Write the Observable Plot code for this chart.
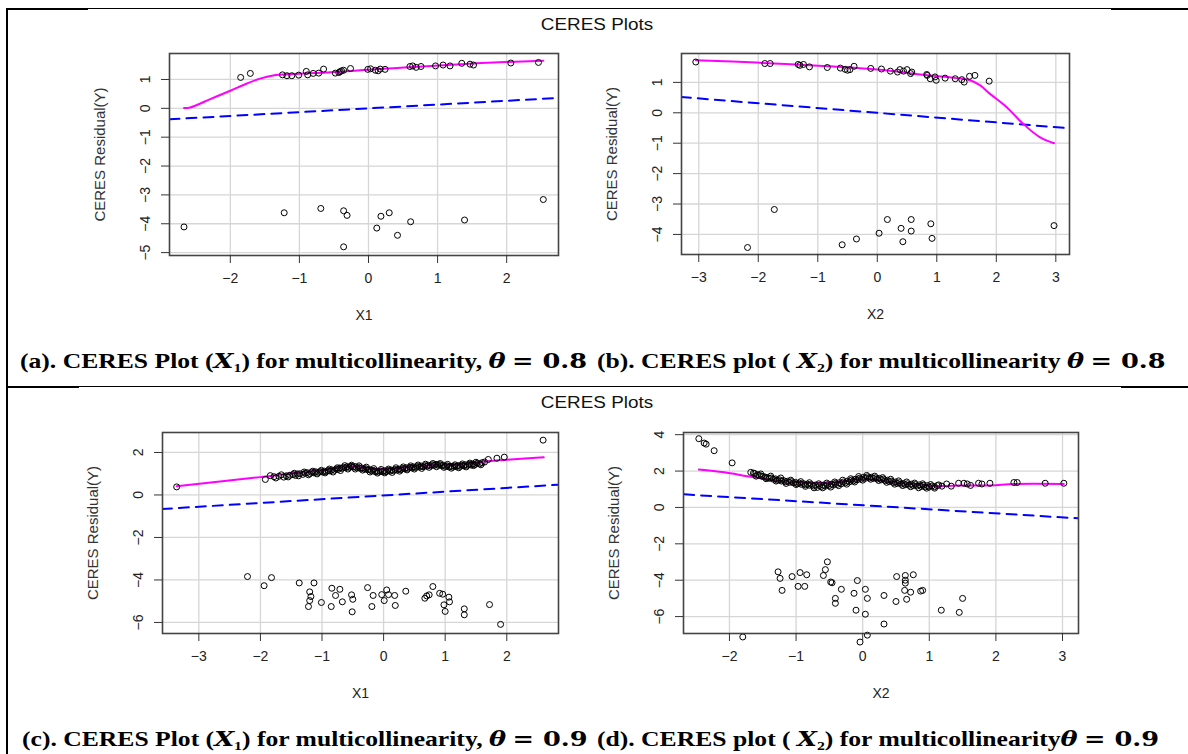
<!DOCTYPE html>
<html>
<head>
<meta charset="utf-8">
<script src="https://cdn.jsdelivr.net/npm/d3@7"></script>
<script src="https://cdn.jsdelivr.net/npm/@observablehq/plot@0.6"></script>
<style>
  html, body { margin: 0; padding: 0; background: #fff; }
  #page { position: relative; width: 1188px; height: 754px; overflow: hidden; background: #fff; }
  .abs { position: absolute; }
  .line { position: absolute; background: #000; }
  .title { position: absolute; width: 300px; text-align: center; font-family: "Liberation Sans", Arial, sans-serif; font-size: 16px; color: #111; transform: scaleX(1.18); }
  .cap { position: absolute; white-space: nowrap; font-family: "Liberation Serif", "Times New Roman", serif; font-weight: bold; font-size: 21px; color: #000; transform-origin: 0 50%; transform: scaleX(1.22); }
  .cap .m { font-family: "DejaVu Serif", "Liberation Serif", serif; font-weight: bold; }
  .cap i { font-family: "DejaVu Serif", "Liberation Serif", serif; }
  .cap sub { font-size: 13px; vertical-align: -4px; }
</style>
</head>
<body>
<div id="page"></div>
<script>
// ---------- Data ----------
const panelTitles = ["CERES Plots", "CERES Plots"];
const yAxisLabel = "CERES Residual(Y)";

// Panel (a): X1, theta = 0.8
const aTicksX = [-2, -1, 0, 1, 2];
const aTicksY = [1, 0, -1, -2, -3, -4, -5];
const aPoints = [
  [-1.85,1.07],[-1.71,1.21],[-1.245,1.16],[-1.18,1.13],[-1.11,1.13],[-1.01,1.15],[-0.90,1.28],[-0.88,1.16],
  [-0.80,1.21],[-0.72,1.22],[-0.65,1.36],[-0.48,1.22],[-0.43,1.24],[-0.41,1.27],[-0.39,1.30],[-0.36,1.32],
  [-0.26,1.38],[-0.01,1.35],[0.03,1.37],[0.10,1.32],[0.14,1.30],[0.17,1.36],[0.24,1.35],[0.60,1.45],
  [0.64,1.47],[0.69,1.42],[0.76,1.45],[0.97,1.47],[1.08,1.50],[1.18,1.47],[1.35,1.56],[1.47,1.53],
  [1.52,1.50],[2.06,1.57],[2.46,1.59],
  [-2.67,-4.11],[-1.22,-3.62],[-0.69,-3.47],[-0.36,-3.55],[-0.31,-3.71],[-0.36,-4.80],[0.12,-4.15],
  [0.18,-3.74],[0.30,-3.62],[0.42,-4.40],[0.61,-3.93],[1.39,-3.87],[2.53,-3.16]
];
const aSmooth = [
  [-2.67,0.01],[-2.58,0.03],[-2.29,0.32],[-2.0,0.61],[-1.76,0.86],[-1.57,1.03],[-1.38,1.14],[-1.09,1.19],
  [-0.60,1.24],[-0.12,1.32],[0.36,1.39],[0.84,1.46],[1.33,1.53],[1.81,1.59],[2.53,1.65]
];
const aFit = [[-2.88,-0.38],[2.75,0.36]];

// Panel (b): X2, theta = 0.8
const bTicksX = [-3, -2, -1, 0, 1, 2, 3];
const bTicksY = [1, 0, -1, -2, -3, -4];
const bPoints = [
  [-3.05,1.67],[-1.89,1.62],[-1.80,1.62],[-1.33,1.59],[-1.30,1.56],[-1.24,1.59],[-1.14,1.51],[-0.84,1.49],
  [-0.62,1.47],[-0.54,1.43],[-0.50,1.40],[-0.46,1.42],[-0.39,1.53],[-0.11,1.46],[0.07,1.44],[0.22,1.37],
  [0.34,1.34],[0.38,1.42],[0.44,1.37],[0.50,1.42],[0.56,1.29],[0.58,1.34],[0.83,1.26],[0.84,1.23],
  [0.89,1.12],[0.97,1.18],[0.99,1.07],[1.14,1.14],[1.31,1.12],[1.42,1.09],[1.46,1.01],[1.55,1.20],
  [1.64,1.23],[1.88,1.04],
  [-2.18,-4.43],[-1.73,-3.18],[-0.59,-4.34],[-0.35,-4.15],[0.03,-3.96],[0.17,-3.51],[0.40,-3.80],
  [0.43,-4.24],[0.57,-3.51],[0.57,-3.89],[0.90,-3.65],[0.92,-4.13],[2.97,-3.71]
];
const bSmooth = [
  [-3.05,1.73],[-2.03,1.65],[-0.91,1.54],[0,1.42],[0.77,1.25],[1.33,1.14],[1.56,1.07],[1.73,0.90],
  [1.89,0.63],[2.17,0.19],[2.45,-0.36],[2.73,-0.80],[2.97,-1.00]
];
const bFit = [[-3.30,0.52],[3.23,-0.51]];

// Panel (c): X1, theta = 0.9
const cTicksX = [-3, -2, -1, 0, 1, 2];
const cTicksY = [2, 0, -2, -4, -6];
const cPoints = [
  [-3.36,0.38],[-1.92,0.73],[-1.84,0.91],[-1.78,0.86],[-1.70,0.88],[-1.62,0.84],[-1.58,0.90],[-1.52,0.93],
  [-1.47,0.96],[-1.43,0.92],[-1.40,0.99],[-1.36,1.00],[-1.31,0.97],[-1.27,1.03],[-1.24,1.05],[-1.20,1.00],
  [-1.17,1.07],[-1.13,1.04],[-1.10,1.09],[-1.06,1.06],[-1.03,1.10],[-0.99,1.08],[-0.96,1.12],[-0.93,1.10],
  [-0.90,1.15],[-0.87,1.13],[-0.84,1.18],[-0.80,1.16],[-0.77,1.22],[-0.74,1.20],[-0.71,1.27],[-0.68,1.25],
  [-0.65,1.30],[-0.62,1.28],[-0.59,1.33],[-0.56,1.30],[-0.53,1.35],[-0.50,1.31],[-0.47,1.34],[-0.44,1.28],
  [-0.41,1.30],[-0.38,1.25],[-0.35,1.27],[-0.32,1.22],[-0.29,1.24],[-0.26,1.18],[-0.23,1.20],[-0.20,1.14],
  [-0.17,1.16],[-0.14,1.10],[-0.11,1.12],[-0.08,1.08],[-0.05,1.13],[-0.02,1.09],[0.01,1.14],[0.04,1.10],
  [0.07,1.15],[0.10,1.12],[0.13,1.17],[0.16,1.14],[0.19,1.20],[0.22,1.17],[0.25,1.22],[0.28,1.19],
  [0.31,1.25],[0.34,1.23],[0.37,1.28],[0.40,1.25],[0.43,1.30],[0.46,1.27],[0.49,1.32],[0.52,1.29],
  [0.55,1.34],[0.58,1.31],[0.61,1.36],[0.64,1.33],[0.67,1.38],[0.70,1.35],[0.73,1.40],[0.76,1.37],
  [0.79,1.42],[0.82,1.39],[0.85,1.44],[0.88,1.40],[0.91,1.43],[0.94,1.38],[0.97,1.40],[1.00,1.35],
  [1.03,1.37],[1.06,1.32],[1.09,1.35],[1.12,1.31],[1.15,1.36],[1.18,1.33],[1.21,1.38],[1.24,1.35],
  [1.27,1.40],[1.30,1.37],[1.33,1.42],[1.36,1.39],[1.39,1.44],[1.42,1.41],[1.45,1.46],[1.48,1.43],
  [1.52,1.49],[1.56,1.47],[1.60,1.52],[1.64,1.55],[1.70,1.67],[1.84,1.73],[1.96,1.78],[2.59,2.58],
  [-1.75,0.80],[-1.66,0.95],[-1.55,0.85],[-1.45,1.02],[-1.38,0.90],[-1.29,1.08],[-1.22,0.95],[-1.15,1.12],
  [-1.08,0.99],[-1.01,1.16],[-0.95,1.04],[-0.88,1.22],[-0.82,1.08],[-0.75,1.28],[-0.70,1.15],[-0.63,1.38],
  [-0.58,1.22],[-0.52,1.40],[-0.46,1.22],[-0.40,1.37],[-0.34,1.17],[-0.28,1.31],[-0.22,1.08],[-0.16,1.24],
  [-0.10,1.03],[-0.04,1.20],[0.02,1.04],[0.08,1.22],[0.14,1.06],[0.20,1.28],[0.26,1.12],[0.32,1.32],
  [0.38,1.18],[0.44,1.37],[0.50,1.22],[0.56,1.41],[0.62,1.25],[0.68,1.45],[0.74,1.30],[0.80,1.48],
  [0.86,1.33],[0.92,1.48],[0.98,1.30],[1.04,1.44],[1.10,1.26],[1.16,1.42],[1.22,1.28],[1.28,1.46],
  [1.34,1.32],[1.40,1.50],[1.46,1.38],[1.50,1.54],[1.58,1.42],
  [-2.21,-3.84],[-1.94,-4.27],[-1.82,-3.89],[-1.37,-4.14],[-1.13,-4.14],[-1.20,-4.56],[-1.18,-4.78],
  [-1.20,-4.97],[-1.22,-5.25],[-1.01,-5.06],[-0.85,-5.25],[-0.84,-4.39],[-0.78,-4.73],[-0.71,-4.44],
  [-0.67,-5.03],[-0.52,-4.70],[-0.50,-4.91],[-0.51,-5.50],[-0.26,-4.36],[-0.17,-4.73],[-0.19,-5.25],
  [-0.03,-4.69],[0.05,-4.47],[0.08,-4.69],[0.01,-4.97],[0.18,-4.73],[0.19,-5.20],[0.36,-4.53],
  [0.67,-4.86],[0.70,-4.75],[0.74,-4.70],[0.80,-4.31],[0.91,-4.63],[0.96,-4.67],[1.06,-4.81],
  [1.07,-5.03],[0.98,-5.17],[1.00,-5.48],[1.31,-5.36],[1.31,-5.64],[1.72,-5.16],[1.90,-6.09]
];
const cSmooth = [
  [-3.36,0.41],[-2.0,0.84],[-1.46,1.03],[-0.92,1.19],[-0.60,1.34],[-0.38,1.31],[-0.11,1.23],[0.16,1.25],
  [0.70,1.39],[1.24,1.44],[1.68,1.59],[2.06,1.67],[2.60,1.77]
];
const cFit = [[-3.60,-0.66],[2.83,0.48]];

// Panel (d): X2, theta = 0.9
const dTicksX = [-2, -1, 0, 1, 2, 3];
const dTicksY = [4, 2, 0, -2, -4, -6];
const dPoints = [
  [-2.46,3.78],[-2.38,3.54],[-2.35,3.48],[-2.23,3.12],[-1.96,2.45],[-1.68,1.93],[-1.64,1.89],
  [-1.62,1.86],[-1.58,1.80],[-1.55,1.76],[-1.52,1.72],[-1.49,1.70],[-1.46,1.66],[-1.43,1.64],[-1.40,1.60],
  [-1.37,1.62],[-1.34,1.55],[-1.31,1.57],[-1.28,1.50],[-1.25,1.52],[-1.22,1.45],[-1.19,1.48],[-1.16,1.41],
  [-1.13,1.44],[-1.10,1.38],[-1.07,1.42],[-1.04,1.35],[-1.01,1.38],[-0.98,1.30],[-0.95,1.34],[-0.92,1.27],
  [-0.89,1.31],[-0.86,1.24],[-0.83,1.28],[-0.80,1.22],[-0.77,1.26],[-0.74,1.18],[-0.71,1.23],[-0.68,1.10],
  [-0.65,1.20],[-0.62,1.15],[-0.59,1.22],[-0.56,1.17],[-0.53,1.25],[-0.50,1.20],[-0.47,1.28],[-0.44,1.23],
  [-0.41,1.32],[-0.38,1.27],[-0.35,1.36],[-0.32,1.30],[-0.29,1.40],[-0.26,1.35],[-0.23,1.45],[-0.20,1.40],
  [-0.17,1.50],[-0.14,1.46],[-0.11,1.55],[-0.08,1.52],[-0.05,1.60],[-0.02,1.56],[0.01,1.65],[0.04,1.60],
  [0.07,1.68],[0.10,1.62],[0.13,1.66],[0.16,1.60],[0.19,1.63],[0.22,1.56],[0.25,1.60],[0.28,1.52],
  [0.31,1.56],[0.34,1.47],[0.37,1.50],[0.40,1.42],[0.43,1.45],[0.46,1.37],[0.49,1.40],[0.52,1.32],
  [0.55,1.36],[0.58,1.28],[0.61,1.32],[0.64,1.25],[0.67,1.30],[0.70,1.22],[0.73,1.28],[0.76,1.20],
  [0.79,1.26],[0.82,1.18],[0.85,1.24],[0.88,1.15],[0.91,1.22],[0.94,1.13],[0.97,1.20],[1.00,1.12],
  [1.04,1.18],[1.08,1.14],[1.12,1.20],
  [-1.60,1.72],[-1.53,1.84],[-1.45,1.58],[-1.38,1.72],[-1.30,1.45],[-1.23,1.62],[-1.15,1.32],[-1.08,1.50],
  [-1.00,1.26],[-0.93,1.42],[-0.86,1.16],[-0.80,1.36],[-0.73,1.08],[-0.66,1.30],[-0.60,1.08],[-0.54,1.34],
  [-0.48,1.12],[-0.42,1.40],[-0.36,1.20],[-0.30,1.50],[-0.24,1.28],[-0.18,1.58],[-0.12,1.40],[-0.06,1.70],
  [0.00,1.50],[0.06,1.76],[0.12,1.55],[0.18,1.72],[0.24,1.48],[0.30,1.64],[0.36,1.38],[0.42,1.55],
  [0.48,1.28],[0.54,1.46],[0.60,1.20],[0.66,1.40],[0.72,1.14],[0.78,1.34],[0.84,1.08],[0.90,1.30],
  [0.96,1.06],[1.02,1.26],[1.08,1.06],[1.14,1.24],
  [1.19,1.17],[1.26,1.29],[1.33,1.17],[1.44,1.33],[1.52,1.33],[1.57,1.29],[1.62,1.21],[1.74,1.33],
  [1.79,1.29],[1.91,1.33],[2.27,1.37],[2.32,1.37],[2.74,1.33],[3.02,1.33],
  [-1.80,-7.12],[-1.27,-3.54],[-1.24,-3.90],[-1.21,-4.56],[-1.06,-3.80],[-0.97,-4.34],[-0.94,-3.58],
  [-0.87,-4.34],[-0.84,-3.70],[-0.59,-3.74],[-0.56,-3.42],[-0.53,-2.99],[-0.48,-4.10],[-0.46,-4.14],
  [-0.41,-5.00],[-0.41,-5.27],[-0.32,-4.50],[-0.13,-4.72],[-0.08,-4.02],[-0.10,-5.65],[-0.04,-7.40],
  [0.04,-4.50],[0.04,-5.87],[0.07,-5.00],[0.07,-7.02],[0.32,-4.84],[0.32,-6.41],[0.50,-5.17],
  [0.51,-3.80],[0.64,-3.74],[0.64,-4.00],[0.64,-4.16],[0.63,-4.56],[0.66,-5.05],[0.72,-4.66],
  [0.76,-3.70],[0.87,-4.60],[0.90,-4.56],[1.18,-5.65],[1.45,-5.77],[1.50,-5.00]
];
const dSmooth = [
  [-2.46,2.09],[-2.08,1.93],[-1.68,1.69],[-1.28,1.49],[-0.98,1.37],[-0.48,1.37],[-0.18,1.49],[0.02,1.57],
  [0.27,1.49],[0.57,1.33],[0.92,1.25],[1.02,1.17],[1.42,1.21],[1.92,1.21],[2.27,1.29],[3.02,1.29]
];
const dFit = [[-2.68,0.72],[3.24,-0.60]];

// ---------- Layout ----------
const page = document.getElementById("page");
function addLine(l, t, w, h) {
  const d = document.createElement("div");
  d.className = "line";
  Object.assign(d.style, {left: l + "px", top: t + "px", width: w + "px", height: h + "px"});
  page.appendChild(d);
}
// table borders
addLine(7, 8, 1181, 1); addLine(7, 8, 81, 2); addLine(1111, 8, 77, 2);
addLine(6, 8, 2, 746);
addLine(7, 386, 1181, 1); addLine(7, 386, 72, 2); addLine(1121, 386, 67, 2);

function addCaption(html, left, top) {
  const d = document.createElement("div");
  d.className = "cap";
  d.innerHTML = html;
  d.style.left = left + "px";
  d.style.top = top + "px";
  page.appendChild(d);
}
addCaption('(a). CERES Plot (<i>X</i><sub>1</sub>) for multicollinearity, <i>θ</i> <span class="m">= 0.8</span>', 20, 348);
addCaption('(b). CERES plot ( <i>X</i><sub>2</sub>) for multicollinearity <i>θ</i> <span class="m">= 0.8</span>', 597, 348);
addCaption('(c). CERES Plot (<i>X</i><sub>1</sub>) for multicollinearity, <i>θ</i> <span class="m">= 0.9</span>', 22, 726);
addCaption('(d). CERES plot ( <i>X</i><sub>2</sub>) for multicollinearity<i>θ</i> <span class="m">= 0.9</span>', 597, 726);

const toXY = arr => arr.map(([x, y]) => ({x, y}));

function panel({points, smooth, fit, ticksX, ticksY, xDomain, yDomain, xLabel, left, top, width, height, mL, mR, mT, mB}) {
  const chart = Plot.plot({
    width, height,
    marginLeft: mL, marginRight: mR, marginTop: mT, marginBottom: mB,
    x: {domain: xDomain},
    y: {domain: yDomain},
    style: {fontFamily: '"Liberation Sans", Arial, sans-serif', fontSize: "14px", color: "#222", background: "transparent", overflow: "visible"},
    marks: [
      Plot.gridX(ticksX, {stroke: "#d6d6d6", strokeOpacity: 1, strokeWidth: 1.3}),
      Plot.gridY(ticksY, {stroke: "#d6d6d6", strokeOpacity: 1, strokeWidth: 1.3}),
      Plot.line(toXY(fit), {x: "x", y: "y", stroke: "#0000ff", strokeWidth: 2, strokeDasharray: "10,7", clip: true}),
      Plot.line(toXY(smooth), {x: "x", y: "y", stroke: "#ff00ff", strokeWidth: 2, curve: "catmull-rom"}),
      Plot.dot(toXY(points), {x: "x", y: "y", r: 3, stroke: "#000", strokeWidth: 1, fill: "none"}),
      Plot.frame({stroke: "#444", strokeWidth: 1.6}),
      Plot.axisX(ticksX, {tickSize: 8, tickPadding: 10, label: null, fontSize: 14, stroke: "#333"}),
      Plot.axisY(ticksY, {tickSize: 8, tickPadding: 12, tickRotate: -90, textAnchor: "middle", lineAnchor: "bottom", label: null, fontSize: 14, stroke: "#333"}),
      Plot.text([xLabel], {frameAnchor: "bottom", dy: 60, lineAnchor: "middle", textAnchor: "middle", fontSize: 14, fill: "#222"}),
      Plot.text([yAxisLabel], {frameAnchor: "left", dx: -69, rotate: -90, textAnchor: "middle", lineAnchor: "middle", fontSize: 15, fill: "#333"})
    ]
  });
  chart.classList.add("abs");
  chart.style.left = left + "px";
  chart.style.top = top + "px";
  page.appendChild(chart);
}

panel({points: aPoints, smooth: aSmooth, fit: aFit, ticksX: aTicksX, ticksY: aTicksY,
  xDomain: [-2.88, 2.75], yDomain: [-5.1, 1.9], xLabel: "X1",
  left: 60, top: 40, width: 520, height: 290, mL: 109, mR: 22, mT: 13, mB: 75});
panel({points: bPoints, smooth: bSmooth, fit: bFit, ticksX: bTicksX, ticksY: bTicksY,
  xDomain: [-3.29, 3.23], yDomain: [-4.66, 1.95], xLabel: "X2",
  left: 590, top: 40, width: 500, height: 290, mL: 91, mR: 21, mT: 13, mB: 76});
panel({points: cPoints, smooth: cSmooth, fit: cFit, ticksX: cTicksX, ticksY: cTicksY,
  xDomain: [-3.59, 2.84], yDomain: [-6.52, 2.94], xLabel: "X1",
  left: 60, top: 420, width: 520, height: 290, mL: 102, mR: 22, mT: 12, mB: 77});
panel({points: dPoints, smooth: dSmooth, fit: dFit, ticksX: dTicksX, ticksY: dTicksY,
  xDomain: [-2.69, 3.24], yDomain: [-6.93, 4.12], xLabel: "X2",
  left: 590, top: 420, width: 500, height: 290, mL: 93, mR: 12, mT: 12, mB: 77});

function addTitle(text, top) {
  const d = document.createElement("div");
  d.className = "title";
  d.textContent = text;
  d.style.left = (597 - 150) + "px";
  d.style.top = top + "px";
  page.appendChild(d);
}
addTitle(panelTitles[0], 16);
addTitle(panelTitles[1], 394);
</script>
</body>
</html>
